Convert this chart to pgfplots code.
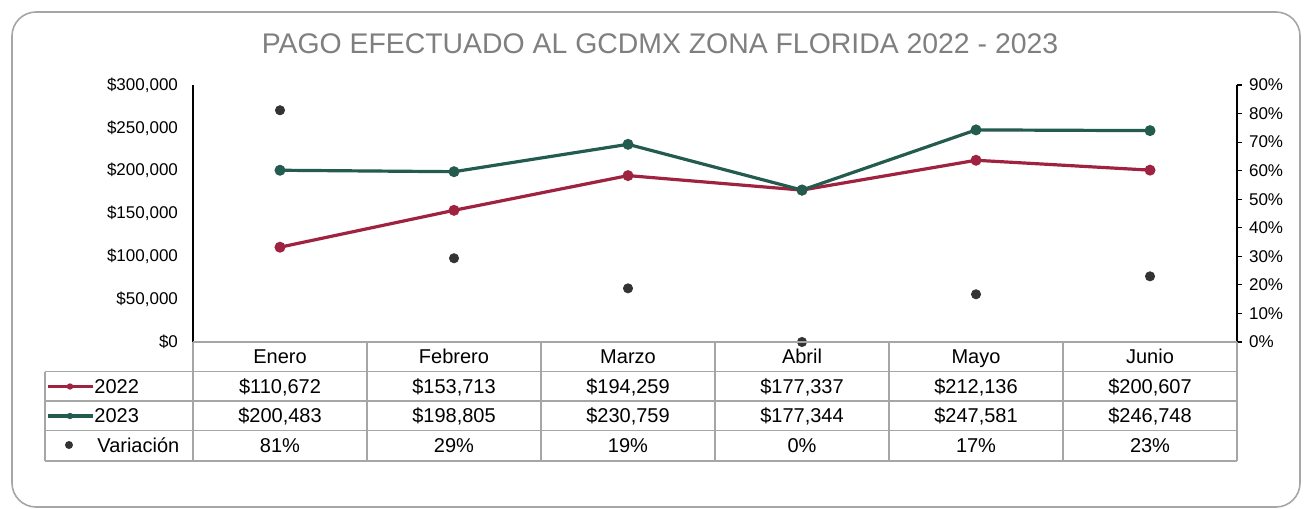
\documentclass[border=0pt]{standalone}
\usepackage{pgfplots}
\pgfplotsset{compat=1.18}
\usepackage{fontspec}
\setmainfont{Liberation Sans}
\definecolor{c22}{HTML}{9F2241}
\definecolor{c23}{HTML}{235B4E}
\definecolor{cvar}{HTML}{333333}
\definecolor{grid}{HTML}{A6A6A6}
\definecolor{ttl}{HTML}{7F7F7F}
\begin{document}
\begin{tikzpicture}
\begin{scope}[x=0.5pt,y=-0.5pt]
\path[use as bounding box] (0,0) rectangle (1304,508);
\draw[grid, line width=0.8pt, rounded corners=12pt] (12,12) rectangle (1300,507);
\node[ttl, font=\fontsize{14.2}{16}\selectfont] at (660,44) {PAGO EFECTUADO AL GCDMX ZONA FLORIDA 2022 - 2023};
\end{scope}
% left axis
\begin{axis}[
  at={(96.5pt,-171pt)}, anchor=south west, scale only axis,
  width=522pt, height=128.5pt,
  xmin=-0.5, xmax=5.5, ymin=0, ymax=300000,
  axis lines*=left, x axis line style={draw=none},
  y axis line style={black, line width=0.6pt},
  xtick=\empty, scaled y ticks=false,
  ytick={0,50000,100000,150000,200000,250000,300000},
  yticklabels={{\$0},{\$50,000},{\$100,000},{\$150,000},{\$200,000},{\$250,000},{\$300,000}},
  major tick length=0pt,
  yticklabel style={font=\fontsize{8.5}{9}\selectfont, xshift=-4pt},
  clip=false,
]
\addplot[c22, line width=1.6pt, mark=*, mark size=1.9pt] coordinates {(0,110672) (1,153713) (2,194259) (3,177337) (4,212136) (5,200607)};
\addplot[c23, line width=1.6pt, mark=*, mark size=1.9pt] coordinates {(0,200483) (1,198805) (2,230759) (3,177344) (4,247581) (5,246748)};
\end{axis}
% right axis
\begin{axis}[
  at={(96.5pt,-171pt)}, anchor=south west, scale only axis,
  width=522pt, height=128.5pt,
  xmin=-0.5, xmax=5.5, ymin=0, ymax=0.9,
  axis y line*=right, axis x line=none,
  y axis line style={black, line width=0.6pt},
  scaled y ticks=false,
  ytick={0,0.1,0.2,0.3,0.4,0.5,0.6,0.7,0.8,0.9},
  yticklabels={0\%,10\%,20\%,30\%,40\%,50\%,60\%,70\%,80\%,90\%},
  tick align=outside, major tick length=2.5pt,
  tick style={black, line width=0.6pt},
  yticklabel style={font=\fontsize{8.5}{9}\selectfont},
  clip=false,
]
\addplot[only marks, mark=*, mark size=2.3pt, cvar] coordinates {(0,0.8115) (1,0.2933) (2,0.1879) (3,0.00004) (4,0.1671) (5,0.2300)};
\end{axis}
% data table
\begin{scope}[x=0.5pt,y=-0.5pt]
\begin{scope}[grid, line width=0.8pt]
\draw (193,342) -- (1237,342);
\foreach \y in {371.5,401,430.5,461} \draw (45,\y) -- (1237,\y);
\draw (45,371.5) -- (45,461);
\foreach \x in {193,367,541,715,889,1063,1237} \draw (\x,342) -- (\x,461);
\end{scope}
\begin{scope}[font=\fontsize{10}{11}\selectfont, every node/.style={text height=1.55ex, text depth=0.3ex, inner sep=0pt}]
\foreach \n/\t in {0/Enero,1/Febrero,2/Marzo,3/Abril,4/Mayo,5/Junio}
  \node at (280+174*\n,357) {\t};
\foreach \n/\t in {0/{\$110,672},1/{\$153,713},2/{\$194,259},3/{\$177,337},4/{\$212,136},5/{\$200,607}}
  \node at (280+174*\n,386.5) {\t};
\foreach \n/\t in {0/{\$200,483},1/{\$198,805},2/{\$230,759},3/{\$177,344},4/{\$247,581},5/{\$246,748}}
  \node at (280+174*\n,416) {\t};
\foreach \n/\t in {0/81\%,1/29\%,2/19\%,3/0\%,4/17\%,5/23\%}
  \node at (280+174*\n,446) {\t};
\draw[c22, line width=1.6pt] (48,386.5) -- (93,386.5);
\fill[c22] (70,386.5) circle (1.6pt);
\draw[c23, line width=1.6pt] (48,416) -- (93,416);
\fill[c23] (70,416) circle (1.6pt);
\fill[cvar] (69,445) circle (2pt);
\node[anchor=west] at (94,386.5) {2022};
\node[anchor=west] at (94,416) {2023};
\node[anchor=west] at (97,446) {Variación};
\end{scope}
\end{scope}
\end{tikzpicture}
\end{document}
